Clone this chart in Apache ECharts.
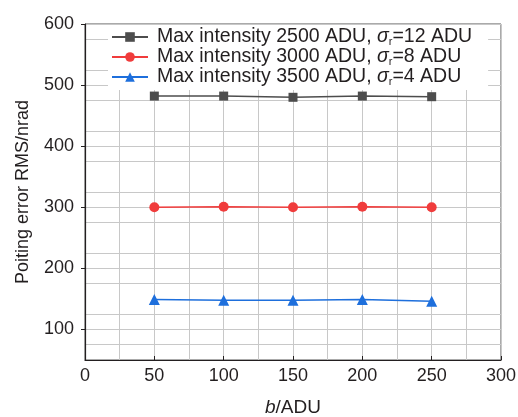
<!DOCTYPE html>
<html><head><meta charset="utf-8">
<script src="https://cdn.jsdelivr.net/npm/echarts@6/dist/echarts.min.js"></script>
<style>html,body{margin:0;padding:0;background:#fff}#c{width:518px;height:417px}</style>
</head><body><div id="c"></div>
<script>
const xValues = [50, 100, 150, 200, 250];
const series2500 = [482, 482, 480, 482, 481];
const series3000 = [300, 301, 300, 301, 300];
const series3500 = [149, 148, 148, 149, 146];
const seriesNames = [
  'Max intensity 2500 ADU, σr=12 ADU',
  'Max intensity 3000 ADU, σr=8 ADU',
  'Max intensity 3500 ADU, σr=4 ADU'
];
const legendParts = {
  [seriesNames[0]]: ['Max intensity 2500 ADU, ', '=12 ADU'],
  [seriesNames[1]]: ['Max intensity 3000 ADU, ', '=8 ADU'],
  [seriesNames[2]]: ['Max intensity 3500 ADU, ', '=4 ADU']
};
const yTickLabels = [100, 200, 300, 400, 500, 600];
const xTickLabels = [0, 50, 100, 150, 200, 250, 300];
const colors = ['#4d4d4d', '#f03c3c', '#1e6fdc'];
const font = 'Liberation Sans, Arial, sans-serif';
const ink = '#231f20';

function pairs(ys) { return xValues.map((x, i) => [x, ys[i]]); }

const chart = echarts.init(document.getElementById('c'), null, {renderer: 'canvas'});
chart.setOption({
  animation: false,
  textStyle: {fontFamily: font},
  grid: {left: 85, right: 17, top: 24, bottom: 57, show: true, borderColor: '#555', borderWidth: 1,
         backgroundColor: 'transparent', containLabel: false, outerBoundsMode: 'none'},
  legend: {
    orient: 'vertical', left: 108, top: 25,
    padding: [2, 16, 3, 3], itemGap: 0,
    backgroundColor: '#fff',
    itemWidth: 36, itemHeight: 12,
    data: seriesNames,
    textStyle: {
      fontFamily: font, fontSize: 19.5, color: ink, lineHeight: 19,
      rich: {
        p: {fontSize: 19.5, color: ink, fontFamily: font, lineHeight: 19, padding: [0, 0, 0, 4]},
        t: {fontSize: 19.5, color: ink, fontFamily: font, lineHeight: 19},
        i: {fontSize: 19.5, fontStyle: 'italic', color: ink, fontFamily: font, lineHeight: 19},
        s: {fontSize: 11, color: ink, fontFamily: font, lineHeight: 19, padding: [9, 0, 0, 0]}
      }
    },
    formatter: function (name) {
      const p = legendParts[name];
      return '{p|' + p[0] + '}{i|σ}{s|r}{t|' + p[1] + '}';
    }
  },
  xAxis: {
    type: 'value', min: 0, max: 300, interval: 50,
    name: '{i|b}{t|/ADU}', nameLocation: 'middle', nameGap: 38,
    nameTextStyle: {rich: {
      i: {fontSize: 19, fontStyle: 'italic', color: ink, fontFamily: font},
      t: {fontSize: 19, color: ink, fontFamily: font}
    }},
    axisLine: {show: true, onZero: false, lineStyle: {color: ink, width: 1.2}},
    axisTick: {show: true, inside: true, length: 4, lineStyle: {color: ink}},
    axisLabel: {fontSize: 18, color: ink, margin: 7, customValues: xTickLabels},
    splitLine: {show: true, lineStyle: {color: '#c8c8c8', width: 1}},
    minorTick: {show: false, splitNumber: 2},
    minorSplitLine: {show: true, lineStyle: {color: '#c8c8c8', width: 1}}
  },
  yAxis: {
    type: 'value', min: 50, max: 600, interval: 50,
    name: 'Poiting error RMS/nrad', nameLocation: 'middle', nameGap: 53,
    nameTextStyle: {fontSize: 18, color: ink, fontFamily: font},
    axisLine: {show: true, onZero: false, lineStyle: {color: ink, width: 1.2}},
    axisTick: {show: true, inside: false, length: 4, customValues: yTickLabels, lineStyle: {color: ink}},
    axisLabel: {fontSize: 18, color: ink, margin: 11, customValues: yTickLabels},
    splitLine: {show: true, lineStyle: {color: '#c8c8c8', width: 1}},
    minorTick: {show: false, splitNumber: 2},
    minorSplitLine: {show: true, lineStyle: {color: '#c8c8c8', width: 1}}
  },
  series: [
    {name: seriesNames[0], type: 'line', data: pairs(series2500), symbol: 'rect', symbolSize: 9,
     itemStyle: {color: colors[0]}, lineStyle: {color: colors[0], width: 1.5}},
    {name: seriesNames[1], type: 'line', data: pairs(series3000), symbol: 'circle', symbolSize: 10,
     itemStyle: {color: colors[1]}, lineStyle: {color: colors[1], width: 1.5}},
    {name: seriesNames[2], type: 'line', data: pairs(series3500), symbol: 'triangle', symbolSize: 11,
     itemStyle: {color: colors[2]}, lineStyle: {color: colors[2], width: 1.5}}
  ]
});
</script></body></html>
